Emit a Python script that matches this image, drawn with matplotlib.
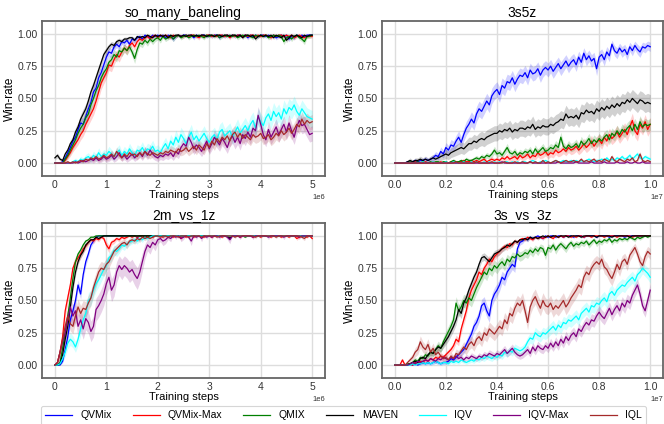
import matplotlib
matplotlib.use("Agg")
import matplotlib.pyplot as plt
import numpy as np

# Legend order / colours
methods = ["QVMix", "QVMix-Max", "QMIX", "MAVEN", "IQV", "IQV-Max", "IQL"]
colors = ["blue", "red", "green", "black", "cyan", "purple", "brown"]

# x grids (101 evaluation points)
steps_5m = np.arange(101) * 5e4
steps_10m = np.arange(101) * 1e5

# ---------------- so_many_baneling ----------------
smb_qvmix = [
    0, 0, 0, 0.01, 0.04, 0.08, 0.12, 0.17, 0.2, 0.26,
    0.31, 0.3, 0.36, 0.42, 0.47, 0.55, 0.58, 0.66, 0.7, 0.76,
    0.82, 0.86, 0.85, 0.9, 0.92, 0.9, 0.94, 0.93, 0.95, 0.92,
    0.96, 0.95, 0.97, 0.98, 0.96, 0.99, 0.98, 0.97, 0.99, 0.98,
    0.99, 0.98, 0.99, 0.97, 0.99, 0.98, 0.96, 0.98, 0.99, 0.98,
    0.99, 0.99, 0.98, 0.99, 0.97, 0.99, 0.98, 0.99, 0.99, 0.98,
    0.99, 0.98, 0.99, 0.99, 0.97, 0.99, 0.98, 0.99, 0.98, 0.99,
    0.98, 0.99, 0.99, 0.98, 0.99, 0.97, 0.99, 0.98, 0.99, 0.98,
    0.99, 0.99, 0.98, 0.99, 0.98, 0.99, 0.97, 0.98, 0.99, 0.98,
    0.99, 0.96, 0.98, 0.97, 0.99, 0.98, 0.99, 0.98, 0.99, 0.99, 0.99]
smb_qvmix_max = [
    0, 0, 0, 0, 0.02, 0.05, 0.08, 0.12, 0.15, 0.18,
    0.22, 0.25, 0.3, 0.34, 0.38, 0.42, 0.48, 0.55, 0.62, 0.66,
    0.7, 0.76, 0.75, 0.8, 0.84, 0.82, 0.86, 0.89, 0.87, 0.91,
    0.93, 0.9, 0.94, 0.96, 0.95, 0.97, 0.98, 0.96, 0.98, 0.99,
    0.97, 0.99, 0.98, 0.99, 0.98, 0.97, 0.99, 0.98, 0.99, 0.98,
    0.98, 0.99, 0.98, 0.99, 0.99, 0.98, 0.97, 0.99, 0.98, 0.99,
    0.99, 0.98, 0.99, 0.98, 0.99, 0.99, 0.98, 0.99, 0.97, 0.99,
    0.98, 0.99, 0.99, 0.98, 0.99, 0.98, 0.99, 0.99, 0.98, 0.99,
    0.98, 0.99, 0.99, 0.98, 0.97, 0.99, 0.98, 0.99, 0.99, 0.98,
    0.99, 0.98, 0.99, 0.97, 0.98, 0.99, 0.98, 0.97, 0.98, 0.98, 0.98]
smb_qmix = [
    0, 0, 0, 0, 0.03, 0.06, 0.1, 0.14, 0.18, 0.23,
    0.27, 0.3, 0.35, 0.38, 0.45, 0.5, 0.56, 0.6, 0.66, 0.7,
    0.73, 0.78, 0.8, 0.84, 0.82, 0.87, 0.86, 0.89, 0.87, 0.9,
    0.86, 0.81, 0.88, 0.93, 0.92, 0.95, 0.93, 0.96, 0.94, 0.96,
    0.97, 0.95, 0.98, 0.96, 0.97, 0.98, 0.96, 0.98, 0.99, 0.97,
    0.98, 0.99, 0.97, 0.98, 0.99, 0.98, 0.99, 0.98, 0.97, 0.99,
    0.98, 0.99, 0.98, 0.99, 0.97, 0.98, 0.99, 0.98, 0.99, 0.98,
    0.99, 0.97, 0.98, 0.99, 0.98, 0.99, 0.98, 0.97, 0.99, 0.98,
    0.99, 0.98, 0.99, 0.97, 0.98, 0.99, 0.98, 0.99, 0.98, 0.94,
    0.97, 0.98, 0.96, 0.98, 0.99, 0.97, 0.96, 0.94, 0.98, 0.98, 0.99]
smb_maven = [
    0.04, 0.06, 0.03, 0.02, 0.07, 0.1, 0.15, 0.18, 0.24, 0.28,
    0.34, 0.38, 0.42, 0.48, 0.55, 0.6, 0.66, 0.72, 0.78, 0.84,
    0.87, 0.9, 0.92, 0.91, 0.94, 0.95, 0.94, 0.96, 0.96, 0.97,
    0.97, 0.95, 0.98, 0.97, 0.98, 0.97, 0.99, 0.98, 0.97, 0.99,
    0.98, 0.99, 0.98, 0.99, 0.97, 0.99, 0.98, 0.99, 0.99, 0.98,
    0.99, 0.98, 0.99, 0.99, 0.98, 0.99, 0.98, 0.99, 0.99, 0.98,
    0.99, 0.99, 0.98, 0.99, 0.99, 0.98, 0.99, 0.99, 0.98, 0.99,
    0.99, 0.98, 0.99, 0.97, 0.99, 0.99, 0.98, 0.99, 0.96, 0.98,
    0.99, 0.98, 0.99, 0.98, 0.99, 0.97, 0.99, 0.98, 0.97, 0.99,
    0.95, 0.97, 0.99, 0.98, 0.99, 0.98, 0.97, 0.99, 0.98, 0.99, 0.99]
smb_iqv = [
    0, 0, 0, 0, 0, 0, 0, 0.01, 0.02, 0.01,
    0.03, 0.02, 0.04, 0.05, 0.03, 0.06, 0.04, 0.08, 0.05, 0.07,
    0.06, 0.09, 0.07, 0.05, 0.08, 0.1, 0.06, 0.09, 0.07, 0.11,
    0.08, 0.06, 0.1, 0.09, 0.12, 0.08, 0.11, 0.1, 0.13, 0.09,
    0.1, 0.08, 0.12, 0.15, 0.11, 0.17, 0.14, 0.2, 0.16, 0.22,
    0.19, 0.15, 0.2, 0.24, 0.18, 0.21, 0.17, 0.2, 0.23, 0.19,
    0.16, 0.2, 0.22, 0.18, 0.24, 0.26, 0.21, 0.23, 0.25, 0.2,
    0.24, 0.28, 0.23, 0.26, 0.29, 0.25, 0.3, 0.33, 0.27, 0.36,
    0.32, 0.29, 0.35, 0.38, 0.33, 0.4, 0.36, 0.39, 0.34, 0.42,
    0.38, 0.43, 0.41, 0.45, 0.4, 0.37, 0.42, 0.39, 0.36, 0.35, 0.34]
smb_iqv_max = [
    0, 0, 0, 0, 0, 0, 0, 0, 0.01, 0,
    0.01, 0.02, 0.01, 0.02, 0.03, 0.02, 0.04, 0.02, 0.03, 0.05,
    0.03, 0.04, 0.06, 0.03, 0.05, 0.08, 0.04, 0.06, 0.03, 0.05,
    0.07, 0.04, 0.06, 0.08, 0.05, 0.09, 0.06, 0.1, 0.07, 0.05,
    0.04, 0.06, 0.05, 0.07, 0.06, 0.08, 0.05, 0.09, 0.07, 0.12,
    0.15, 0.13, 0.2, 0.16, 0.11, 0.14, 0.12, 0.09, 0.13, 0.17,
    0.11, 0.15, 0.2, 0.17, 0.14, 0.19, 0.16, 0.12, 0.18, 0.21,
    0.16, 0.2, 0.15, 0.22, 0.19, 0.24, 0.2, 0.27, 0.25, 0.37,
    0.3, 0.22, 0.18, 0.26, 0.2, 0.24, 0.28, 0.22, 0.26, 0.3,
    0.24, 0.31, 0.25, 0.2, 0.28, 0.33, 0.29, 0.3, 0.26, 0.22, 0.23]
smb_iql = [
    0, 0, 0, 0, 0, 0.01, 0, 0.01, 0, 0.01,
    0.02, 0.01, 0.03, 0.02, 0.04, 0.03, 0.05, 0.03, 0.04, 0.06,
    0.04, 0.05, 0.07, 0.05, 0.09, 0.06, 0.04, 0.07, 0.05, 0.08,
    0.06, 0.07, 0.05, 0.08, 0.06, 0.09, 0.07, 0.06, 0.08, 0.07,
    0.06, 0.08, 0.07, 0.09, 0.08, 0.1, 0.09, 0.08, 0.11, 0.09,
    0.1, 0.12, 0.09, 0.11, 0.13, 0.1, 0.14, 0.12, 0.1, 0.15,
    0.12, 0.17, 0.14, 0.19, 0.16, 0.2, 0.18, 0.21, 0.17, 0.22,
    0.24, 0.2, 0.23, 0.19, 0.22, 0.2, 0.18, 0.22, 0.2, 0.21,
    0.23, 0.19, 0.2, 0.22, 0.18, 0.2, 0.23, 0.21, 0.25, 0.22,
    0.24, 0.27, 0.23, 0.26, 0.3, 0.28, 0.34, 0.3, 0.33, 0.31, 0.32]

# ---------------- 3s5z ----------------
s5z_qvmix = [
    0, 0, 0, 0, 0, 0.01, 0, 0.01, 0.02, 0.01,
    0.02, 0.02, 0.03, 0.02, 0.03, 0.04, 0.06, 0.05, 0.09, 0.07,
    0.12, 0.1, 0.14, 0.13, 0.17, 0.2, 0.16, 0.22, 0.27, 0.3,
    0.34, 0.31, 0.38, 0.42, 0.4, 0.44, 0.48, 0.45, 0.52, 0.55,
    0.57, 0.53, 0.6, 0.58, 0.63, 0.62, 0.66, 0.61, 0.65, 0.68,
    0.67, 0.7, 0.66, 0.72, 0.69, 0.7, 0.73, 0.68, 0.72, 0.74,
    0.72, 0.75, 0.71, 0.74, 0.77, 0.73, 0.76, 0.79, 0.75, 0.78,
    0.8, 0.76, 0.82, 0.78, 0.85, 0.8, 0.83, 0.79, 0.81, 0.73,
    0.82, 0.84, 0.8, 0.86, 0.83, 0.92, 0.87, 0.85, 0.89, 0.86,
    0.88, 0.84, 0.9, 0.87, 0.91, 0.88, 0.86, 0.9, 0.89, 0.91, 0.9]
s5z_qvmix_max = [
    0, 0, 0, 0, 0, 0, 0, 0, 0.01, 0,
    0, 0, 0.01, 0, 0, 0.01, 0, 0, 0.01, 0,
    0.01, 0, 0.01, 0.01, 0, 0.01, 0.01, 0.02, 0.01, 0.01,
    0.02, 0.01, 0.02, 0.01, 0.02, 0.03, 0.01, 0.02, 0.03, 0.02,
    0.03, 0.02, 0.04, 0.03, 0.05, 0.03, 0.04, 0.05, 0.03, 0.06,
    0.04, 0.05, 0.07, 0.04, 0.06, 0.05, 0.08, 0.06, 0.07, 0.09,
    0.06, 0.08, 0.07, 0.1, 0.08, 0.09, 0.11, 0.09, 0.12, 0.1,
    0.11, 0.13, 0.1, 0.12, 0.15, 0.12, 0.14, 0.17, 0.13, 0.16,
    0.18, 0.15, 0.2, 0.17, 0.22, 0.19, 0.21, 0.24, 0.2, 0.23,
    0.26, 0.22, 0.28, 0.33, 0.25, 0.22, 0.3, 0.27, 0.32, 0.26, 0.3]
s5z_qmix = [
    0, 0, 0, 0, 0, 0, 0.01, 0, 0, 0.01,
    0, 0.01, 0, 0, 0.01, 0, 0.01, 0.01, 0, 0.01,
    0.01, 0, 0.01, 0.02, 0.01, 0.01, 0.02, 0.01, 0.03, 0.02,
    0.02, 0.03, 0.04, 0.03, 0.05, 0.04, 0.06, 0.05, 0.07, 0.1,
    0.07, 0.08, 0.06, 0.09, 0.12, 0.08, 0.07, 0.09, 0.06, 0.08,
    0.07, 0.09, 0.08, 0.1, 0.07, 0.11, 0.08, 0.1, 0.12, 0.09,
    0.1, 0.12, 0.11, 0.14, 0.12, 0.2, 0.13, 0.11, 0.14, 0.12,
    0.13, 0.15, 0.12, 0.17, 0.14, 0.16, 0.19, 0.15, 0.18, 0.16,
    0.19, 0.17, 0.2, 0.22, 0.18, 0.23, 0.21, 0.25, 0.22, 0.26,
    0.24, 0.27, 0.29, 0.25, 0.3, 0.26, 0.32, 0.28, 0.3, 0.29, 0.3]
s5z_maven = [
    0, 0, 0, 0, 0, 0.01, 0.02, 0.01, 0.02, 0.02,
    0.03, 0.02, 0.03, 0.02, 0.03, 0.04, 0.03, 0.04, 0.05, 0.06,
    0.07, 0.06, 0.08, 0.09, 0.1, 0.11, 0.12, 0.11, 0.13, 0.15,
    0.15, 0.17, 0.16, 0.18, 0.19, 0.18, 0.2, 0.21, 0.22, 0.23,
    0.23, 0.25, 0.24, 0.26, 0.25, 0.27, 0.24, 0.26, 0.25, 0.27,
    0.27, 0.26, 0.28, 0.27, 0.3, 0.26, 0.28, 0.27, 0.29, 0.28,
    0.28, 0.3, 0.29, 0.31, 0.32, 0.34, 0.33, 0.38, 0.35, 0.36,
    0.35, 0.37, 0.34, 0.39, 0.38, 0.41, 0.39, 0.4, 0.38, 0.42,
    0.4, 0.43, 0.41, 0.44, 0.42, 0.45, 0.43, 0.46, 0.44, 0.47,
    0.46, 0.49, 0.47, 0.5, 0.48, 0.46, 0.49, 0.48, 0.46, 0.47, 0.46]
s5z_iqv = [
    0, 0, 0, 0, 0, 0, 0, 0, 0, 0,
    0, 0.01, 0, 0, 0, 0.01, 0, 0, 0, 0,
    0.01, 0, 0, 0.01, 0, 0, 0, 0.01, 0, 0,
    0.01, 0, 0.01, 0, 0, 0.01, 0, 0.01, 0, 0.01,
    0, 0.01, 0, 0.01, 0.01, 0, 0.01, 0, 0.01, 0,
    0.01, 0.01, 0, 0.01, 0.02, 0.01, 0, 0.01, 0.01, 0.02,
    0.01, 0, 0.01, 0.02, 0.01, 0.01, 0.02, 0.01, 0.01, 0.02,
    0.01, 0.02, 0.01, 0.02, 0.01, 0.02, 0.03, 0.02, 0.01, 0.02,
    0.02, 0.03, 0.02, 0.04, 0.02, 0.03, 0.02, 0.04, 0.03, 0.05,
    0.03, 0.04, 0.06, 0.03, 0.05, 0.07, 0.04, 0.03, 0.05, 0.04, 0.03]
s5z_iqv_max = [
    0, 0, 0, 0, 0, 0, 0, 0, 0, 0,
    0, 0, 0, 0, 0, 0, 0, 0, 0, 0,
    0, 0, 0, 0, 0, 0, 0, 0, 0, 0,
    0, 0, 0, 0, 0, 0, 0, 0, 0, 0,
    0, 0, 0.01, 0, 0, 0, 0, 0, 0, 0,
    0, 0, 0, 0.01, 0, 0, 0, 0, 0, 0,
    0, 0, 0, 0, 0.01, 0, 0, 0, 0, 0,
    0, 0.01, 0, 0, 0, 0, 0, 0.01, 0, 0,
    0, 0, 0.01, 0, 0, 0, 0, 0.01, 0, 0,
    0, 0.01, 0, 0, 0.01, 0, 0, 0.01, 0, 0, 0]
s5z_iql = [
    0, 0, 0, 0, 0, 0, 0, 0, 0, 0,
    0, 0, 0, 0, 0, 0, 0, 0, 0, 0,
    0, 0, 0, 0, 0.01, 0, 0, 0, 0, 0,
    0, 0, 0.01, 0, 0, 0, 0, 0, 0.01, 0,
    0, 0, 0, 0.01, 0, 0, 0, 0.01, 0, 0,
    0.01, 0, 0, 0.01, 0, 0.01, 0, 0, 0.02, 0,
    0.01, 0, 0.01, 0.02, 0.01, 0, 0.01, 0.02, 0.01, 0.01,
    0.02, 0.01, 0.01, 0.03, 0.01, 0.02, 0.01, 0.02, 0.03, 0.01,
    0.02, 0.01, 0.03, 0.02, 0.01, 0.05, 0.02, 0.01, 0.03, 0.02,
    0.01, 0.03, 0.02, 0.04, 0.01, 0.02, 0.07, 0.02, 0.01, 0.02, 0.01]

# ---------------- 2m_vs_1z ----------------
m2z_qvmix = [
    0, 0, 0, 0.03, 0.12, 0.22, 0.35, 0.42, 0.5, 0.62,
    0.55, 0.7, 0.8, 0.86, 0.93, 0.96, 0.99, 1, 1, 1,
    1, 1, 1, 1, 1, 1, 1, 1, 1, 1,
    1, 1, 0.99, 1, 1, 1, 1, 1, 1, 1,
    1, 1, 1, 1, 1, 1, 1, 1, 1, 1,
    1, 1, 1, 1, 1, 1, 1, 1, 1, 1,
    1, 1, 1, 1, 1, 1, 1, 1, 0.98, 1,
    1, 1, 1, 1, 1, 1, 1, 1, 1, 1,
    1, 1, 1, 1, 1, 1, 1, 1, 1, 1,
    1, 1, 1, 1, 1, 1, 1, 1, 1, 1, 1]
m2z_qvmix_max = [
    0, 0.02, 0.1, 0.22, 0.42, 0.52, 0.62, 0.75, 0.8, 0.83,
    0.86, 0.9, 0.92, 0.95, 0.97, 0.96, 0.98, 0.97, 0.99, 0.98,
    0.93, 0.9, 0.95, 0.96, 0.98, 0.97, 0.99, 0.98, 0.99, 1,
    0.99, 1, 0.99, 1, 1, 0.99, 1, 1, 0.99, 1,
    1, 1, 0.99, 1, 1, 1, 0.99, 1, 1, 0.98,
    1, 0.99, 1, 1, 0.99, 1, 1, 1, 0.99, 1,
    1, 0.99, 1, 1, 1, 0.99, 1, 1, 0.99, 1,
    1, 1, 0.99, 1, 1, 1, 1, 0.99, 1, 1,
    0.99, 1, 1, 1, 0.99, 1, 1, 1, 0.99, 1,
    1, 0.99, 1, 1, 0.98, 0.99, 1, 1, 0.99, 1, 0.98]
m2z_qmix = [
    0, 0, 0.02, 0.13, 0.25, 0.38, 0.52, 0.67, 0.8, 0.86,
    0.89, 0.93, 0.96, 0.97, 0.99, 0.99, 1, 1, 1, 1,
    1, 1, 1, 1, 1, 1, 1, 1, 1, 1,
    1, 1, 1, 1, 1, 1, 1, 1, 1, 1,
    1, 1, 1, 1, 1, 1, 1, 1, 1, 1,
    1, 1, 1, 1, 1, 1, 1, 1, 1, 1,
    1, 1, 1, 1, 1, 1, 1, 1, 1, 1,
    1, 1, 1, 1, 0.99, 1, 1, 1, 1, 1,
    1, 1, 1, 1, 1, 1, 1, 1, 1, 1,
    1, 1, 1, 1, 1, 1, 1, 1, 1, 1, 1]
m2z_maven = [
    0, 0, 0.01, 0.08, 0.2, 0.3, 0.45, 0.6, 0.72, 0.8,
    0.85, 0.88, 0.93, 0.95, 0.97, 0.97, 0.99, 0.98, 0.99, 1,
    1, 1, 1, 1, 1, 1, 1, 1, 1, 1,
    1, 1, 1, 1, 1, 1, 1, 1, 1, 1,
    1, 1, 1, 1, 1, 1, 1, 1, 1, 1,
    1, 1, 1, 1, 1, 1, 1, 1, 1, 1,
    1, 1, 1, 1, 1, 1, 1, 1, 0.98, 1,
    1, 1, 1, 1, 1, 1, 1, 1, 1, 1,
    1, 1, 1, 1, 1, 1, 1, 1, 1, 1,
    1, 1, 1, 1, 1, 1, 1, 1, 1, 1, 1]
m2z_iqv = [
    0, 0, 0.01, 0.05, 0.1, 0.17, 0.2, 0.18, 0.14, 0.2,
    0.28, 0.35, 0.4, 0.5, 0.52, 0.58, 0.63, 0.66, 0.7, 0.74,
    0.77, 0.83, 0.85, 0.89, 0.88, 0.9, 0.93, 0.92, 0.94, 0.95,
    0.96, 0.97, 0.96, 0.98, 0.97, 0.99, 0.98, 0.99, 1, 1,
    1, 1, 1, 1, 1, 1, 1, 1, 1, 1,
    1, 1, 1, 1, 1, 1, 1, 1, 1, 1,
    1, 1, 1, 1, 1, 1, 1, 1, 1, 1,
    1, 1, 1, 1, 1, 1, 1, 1, 1, 1,
    1, 1, 1, 1, 1, 1, 1, 1, 1, 1,
    1, 1, 1, 1, 1, 1, 1, 1, 1, 1, 1]
m2z_iqv_max = [
    0, 0.02, 0.1, 0.18, 0.25, 0.35, 0.45, 0.38, 0.42, 0.3,
    0.35, 0.28, 0.36, 0.33, 0.26, 0.3, 0.43, 0.46, 0.5, 0.55,
    0.63, 0.68, 0.58, 0.62, 0.72, 0.77, 0.74, 0.77, 0.75, 0.72,
    0.74, 0.7, 0.67, 0.72, 0.8, 0.88, 0.93, 0.91, 0.95, 0.93,
    0.97, 0.98, 0.96, 0.97, 0.99, 0.98, 1, 0.99, 1, 0.98,
    0.99, 1, 0.99, 0.96, 1, 0.99, 1, 0.98, 1, 0.99,
    1, 0.99, 1, 1, 0.99, 1, 1, 0.99, 0.97, 1,
    1, 1, 0.99, 1, 1, 1, 1, 0.99, 1, 1,
    1, 1, 1, 0.99, 1, 1, 1, 1, 1, 0.99,
    1, 1, 1, 1, 1, 0.99, 1, 1, 1, 1, 1]
m2z_iql = [
    0, 0.02, 0.1, 0.2, 0.3, 0.38, 0.32, 0.3, 0.38, 0.45,
    0.4, 0.44, 0.43, 0.48, 0.52, 0.6, 0.66, 0.72, 0.75, 0.74,
    0.78, 0.8, 0.84, 0.88, 0.9, 0.92, 0.94, 0.95, 0.93, 0.96,
    0.97, 0.96, 0.98, 0.97, 0.99, 0.98, 0.99, 0.98, 0.99, 1,
    1, 0.99, 1, 1, 0.99, 1, 1, 1, 0.99, 1,
    1, 1, 0.99, 1, 1, 1, 1, 0.99, 1, 1,
    1, 1, 1, 0.99, 1, 1, 1, 1, 1, 1,
    0.99, 1, 1, 1, 1, 1, 1, 1, 0.99, 1,
    1, 1, 1, 1, 1, 1, 0.99, 1, 1, 1,
    1, 1, 1, 1, 1, 1, 0.99, 0.98, 1, 1, 1]

# ---------------- 3s_vs_3z ----------------
s3z_qvmix = [
    0, 0, 0, 0, 0, 0, 0.01, 0, 0.01, 0,
    0.01, 0.02, 0.01, 0.02, 0.01, 0.02, 0.03, 0.02, 0.01, 0.02,
    0.02, 0.03, 0.05, 0.04, 0.06, 0.08, 0.1, 0.12, 0.16, 0.2,
    0.24, 0.3, 0.33, 0.38, 0.46, 0.48, 0.42, 0.38, 0.5, 0.55,
    0.58, 0.62, 0.68, 0.66, 0.72, 0.75, 0.78, 0.76, 0.9, 0.95,
    0.96, 0.98, 0.97, 0.99, 0.98, 0.99, 1, 0.99, 0.98, 1,
    0.99, 1, 1, 0.99, 1, 1, 0.99, 1, 1, 1,
    0.99, 1, 1, 1, 0.99, 1, 1, 1, 1, 0.99,
    1, 1, 1, 1, 0.99, 1, 1, 1, 1, 1,
    0.99, 1, 1, 1, 1, 1, 1, 1, 1, 1, 1]
s3z_qvmix_max = [
    0, 0, 0, 0.04, 0, 0, 0.01, 0, 0.02, 0.01,
    0.03, 0.02, 0.04, 0.03, 0.05, 0.04, 0.06, 0.05, 0.07, 0.06,
    0.08, 0.1, 0.12, 0.15, 0.2, 0.18, 0.28, 0.35, 0.42, 0.52,
    0.58, 0.62, 0.66, 0.72, 0.7, 0.75, 0.78, 0.82, 0.8, 0.84,
    0.86, 0.88, 0.9, 0.92, 0.91, 0.94, 0.93, 0.96, 0.95, 0.97,
    0.98, 0.97, 0.99, 0.98, 0.97, 0.99, 0.98, 0.99, 0.98, 0.99,
    1, 0.99, 0.98, 1, 0.99, 1, 0.99, 1, 1, 0.99,
    1, 0.99, 1, 1, 0.99, 1, 1, 0.99, 1, 1,
    1, 1, 0.99, 1, 1, 1, 1, 0.99, 1, 1,
    1, 1, 1, 0.99, 1, 1, 1, 1, 1, 1, 1]
s3z_qmix = [
    0, 0, 0, 0, 0, 0.01, 0.01, 0.02, 0.04, 0.03,
    0.06, 0.05, 0.08, 0.07, 0.1, 0.09, 0.12, 0.15, 0.13, 0.18,
    0.22, 0.26, 0.3, 0.35, 0.48, 0.42, 0.45, 0.5, 0.48, 0.52,
    0.5, 0.55, 0.6, 0.64, 0.68, 0.72, 0.7, 0.75, 0.73, 0.77,
    0.75, 0.78, 0.8, 0.77, 0.82, 0.8, 0.84, 0.83, 0.86, 0.84,
    0.85, 0.87, 0.86, 0.89, 0.87, 0.9, 0.88, 0.91, 0.9, 0.85,
    0.91, 0.9, 0.93, 0.89, 0.92, 0.94, 0.92, 0.9, 0.93, 0.95,
    0.92, 0.94, 0.93, 0.95, 0.94, 0.96, 0.93, 0.95, 0.97, 0.94,
    0.96, 0.95, 0.97, 0.96, 0.98, 0.95, 0.97, 0.96, 0.98, 0.97,
    0.98, 0.97, 0.99, 0.98, 0.97, 0.99, 0.98, 0.99, 1, 0.99, 1]
s3z_maven = [
    0, 0, 0, 0, 0, 0, 0.01, 0.02, 0.03, 0.02,
    0.05, 0.06, 0.05, 0.08, 0.1, 0.09, 0.12, 0.14, 0.13, 0.16,
    0.19, 0.22, 0.26, 0.3, 0.35, 0.43, 0.4, 0.48, 0.52, 0.58,
    0.63, 0.68, 0.72, 0.78, 0.83, 0.84, 0.82, 0.8, 0.83, 0.86,
    0.87, 0.88, 0.9, 0.91, 0.93, 0.92, 0.94, 0.96, 0.95, 0.97,
    0.97, 0.98, 0.97, 0.99, 0.98, 0.99, 0.98, 0.99, 1, 0.99,
    1, 0.99, 1, 1, 0.99, 1, 1, 1, 0.99, 1,
    1, 1, 1, 0.99, 1, 1, 1, 1, 1, 0.99,
    1, 1, 1, 1, 1, 0.99, 1, 1, 1, 1,
    1, 1, 0.99, 1, 1, 1, 1, 1, 1, 1, 1]
s3z_iqv = [
    0, 0, 0, 0, 0, 0, 0, 0.01, 0, 0.01,
    0.01, 0.02, 0.01, 0.02, 0.01, 0.02, 0.03, 0.02, 0.01, 0.02,
    0.02, 0.01, 0.03, 0.02, 0.03, 0.02, 0.04, 0.03, 0.02, 0.03,
    0.04, 0.03, 0.05, 0.04, 0.06, 0.05, 0.07, 0.06, 0.05, 0.07,
    0.06, 0.08, 0.07, 0.1, 0.09, 0.11, 0.1, 0.13, 0.12, 0.11,
    0.12, 0.14, 0.18, 0.21, 0.2, 0.25, 0.23, 0.22, 0.25, 0.24,
    0.26, 0.28, 0.3, 0.27, 0.31, 0.29, 0.33, 0.32, 0.35, 0.34,
    0.36, 0.38, 0.35, 0.4, 0.42, 0.44, 0.41, 0.46, 0.45, 0.48,
    0.47, 0.5, 0.52, 0.49, 0.55, 0.57, 0.54, 0.58, 0.6, 0.62,
    0.61, 0.64, 0.66, 0.68, 0.65, 0.7, 0.72, 0.75, 0.73, 0.71, 0.68]
s3z_iqv_max = [
    0, 0, 0, 0, 0, 0, 0.01, 0.02, 0.01, 0.03,
    0.02, 0.03, 0.04, 0.03, 0.05, 0.04, 0.03, 0.05, 0.04, 0.06,
    0.05, 0.04, 0.06, 0.05, 0.07, 0.05, 0.06, 0.04, 0.06, 0.05,
    0.07, 0.06, 0.05, 0.07, 0.06, 0.08, 0.07, 0.09, 0.08, 0.07,
    0.09, 0.08, 0.1, 0.12, 0.09, 0.11, 0.13, 0.1, 0.08, 0.07,
    0.08, 0.1, 0.12, 0.09, 0.14, 0.11, 0.15, 0.13, 0.12, 0.15,
    0.13, 0.17, 0.14, 0.18, 0.15, 0.2, 0.17, 0.22, 0.19, 0.23,
    0.25, 0.22, 0.28, 0.26, 0.3, 0.33, 0.31, 0.35, 0.34, 0.38,
    0.41, 0.38, 0.36, 0.4, 0.44, 0.39, 0.43, 0.46, 0.42, 0.48,
    0.45, 0.5, 0.48, 0.54, 0.58, 0.62, 0.55, 0.46, 0.42, 0.5, 0.58]
s3z_iql = [
    0, 0, 0, 0, 0, 0.02, 0.04, 0.06, 0.1, 0.12,
    0.18, 0.14, 0.12, 0.16, 0.1, 0.13, 0.08, 0.1, 0.07, 0.05,
    0.06, 0.04, 0.07, 0.05, 0.09, 0.08, 0.11, 0.14, 0.12, 0.16,
    0.18, 0.15, 0.2, 0.22, 0.19, 0.25, 0.23, 0.28, 0.26, 0.24,
    0.27, 0.3, 0.28, 0.35, 0.32, 0.4, 0.38, 0.44, 0.48, 0.46,
    0.5, 0.42, 0.33, 0.45, 0.5, 0.53, 0.48, 0.44, 0.5, 0.46,
    0.45, 0.48, 0.43, 0.46, 0.44, 0.47, 0.5, 0.45, 0.48, 0.52,
    0.55, 0.58, 0.62, 0.6, 0.68, 0.72, 0.7, 0.75, 0.78, 0.8,
    0.78, 0.82, 0.76, 0.74, 0.7, 0.67, 0.72, 0.78, 0.74, 0.8,
    0.82, 0.78, 0.85, 0.88, 0.91, 0.86, 0.8, 0.77, 0.84, 0.88, 0.86]

# spread of the shaded band for each method, per map
smb_spread = [0.1, 0.1, 0.1, 0.08, 0.14, 0.14, 0.12]
s5z_spread = [0.12, 0.12, 0.1, 0.14, 0.08, 0.04, 0.08]
m2z_spread = [0.08, 0.1, 0.06, 0.06, 0.12, 0.18, 0.12]
s3z_spread = [0.1, 0.08, 0.1, 0.08, 0.1, 0.1, 0.12]

panels = [
    ("so_many_baneling", steps_5m,
     [smb_qvmix, smb_qvmix_max, smb_qmix, smb_maven, smb_iqv, smb_iqv_max, smb_iql], smb_spread),
    ("3s5z", steps_10m,
     [s5z_qvmix, s5z_qvmix_max, s5z_qmix, s5z_maven, s5z_iqv, s5z_iqv_max, s5z_iql], s5z_spread),
    ("2m_vs_1z", steps_5m,
     [m2z_qvmix, m2z_qvmix_max, m2z_qmix, m2z_maven, m2z_iqv, m2z_iqv_max, m2z_iql], m2z_spread),
    ("3s_vs_3z", steps_10m,
     [s3z_qvmix, s3z_qvmix_max, s3z_qmix, s3z_maven, s3z_iqv, s3z_iqv_max, s3z_iql], s3z_spread),
]

plt.rcParams['font.family'] = ['Liberation Sans', 'DejaVu Sans']

fig = plt.figure(figsize=(6.64, 4.24), dpi=100)
positions = [
    [0.0633, 0.585, 0.4262, 0.3656],
    [0.5753, 0.585, 0.4232, 0.3656],
    [0.0633, 0.1085, 0.4262, 0.3656],
    [0.5753, 0.1085, 0.4232, 0.3656],
]

handles = []
for (title, x, series, spread), pos in zip(panels, positions):
    ax = fig.add_axes(pos)
    for name, color, y, k in zip(methods, colors, series, spread):
        y = np.asarray(y, dtype=float)
        band = k * np.sqrt(y * (1 - y))
        ax.fill_between(x, np.clip(y - band, 0, 1), np.clip(y + band, 0, 1),
                        color=color, alpha=0.18, linewidth=0)
        line, = ax.plot(x, y, color=color, linewidth=0.9, label=name)
        if len(handles) < len(methods):
            handles.append(line)

    ax.set_title(title, fontsize=10, pad=3)
    ax.set_xlabel("Training steps", fontsize=8, labelpad=0)
    ax.set_ylabel("Win-rate", fontsize=8.5, labelpad=1)
    ax.set_ylim(-0.1, 1.1)
    ax.set_yticks([0, 0.25, 0.5, 0.75, 1.0])
    ax.set_yticklabels(["0.00", "0.25", "0.50", "0.75", "1.00"])
    if x[-1] > 6e6:
        ax.set_xticks(np.arange(0, 1.01e7, 2e6))
        ax.set_xlim(-0.05e7, 1.05e7)
    else:
        ax.set_xticks(np.arange(0, 5.1e6, 1e6))
        ax.set_xlim(-0.25e6, 5.25e6)
    ax.ticklabel_format(axis='x', style='sci', scilimits=(0, 0))
    ax.xaxis.get_offset_text().set_fontsize(5.5)
    ax.tick_params(labelsize=7.5, length=0, pad=3, colors='#333333')
    ax.grid(True, color='#dddddd', linewidth=1.0)
    ax.set_axisbelow(True)
    for sp in ax.spines.values():
        sp.set_color('#666666')
        sp.set_linewidth(1.3)

leg = fig.legend(handles, methods, loc='upper center', bbox_to_anchor=(0.517, 0.054),
                 ncol=7, fontsize=7.5, frameon=True, handlelength=2.6,
                 columnspacing=2.0, borderpad=0.4, fancybox=True)
leg.get_frame().set_edgecolor('#cccccc')
leg.get_frame().set_linewidth(0.8)

fig.savefig("out.png", dpi=100)
